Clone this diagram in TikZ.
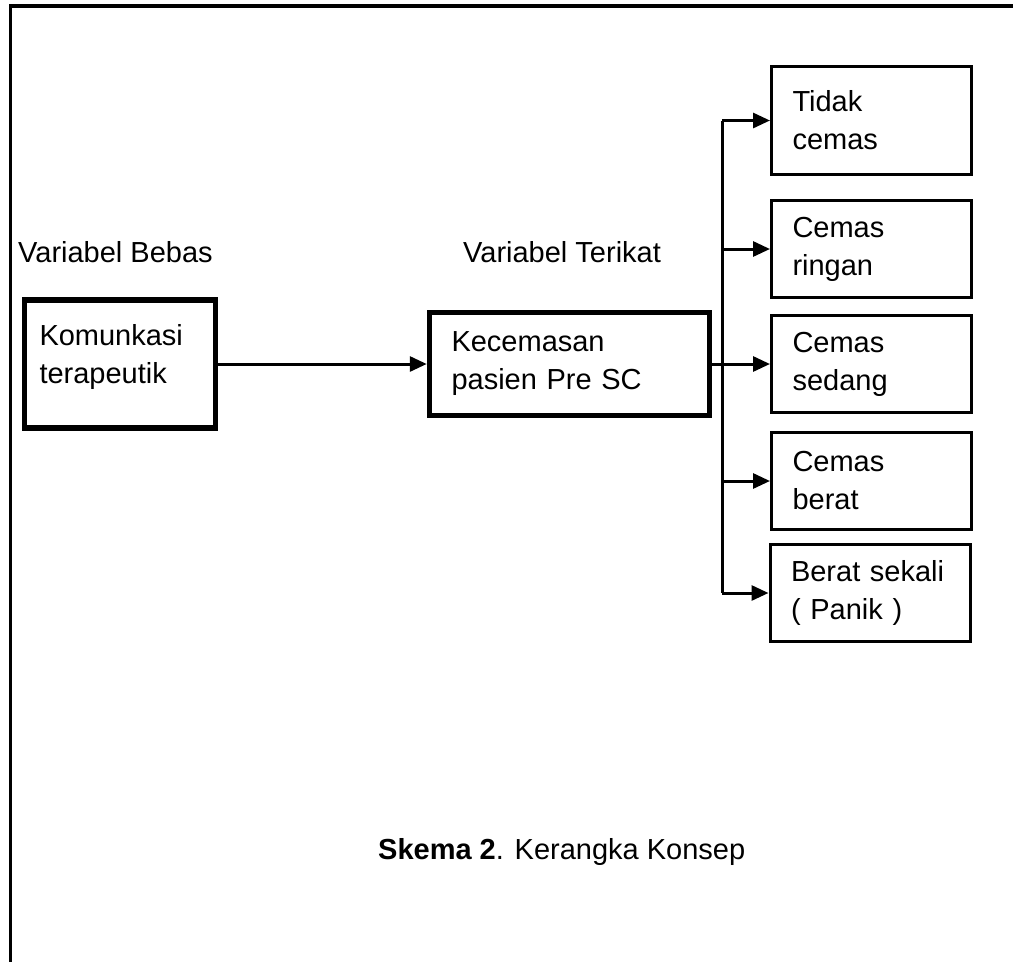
\documentclass[tikz,border=0pt]{standalone}
\usepackage{fontspec}
\setmainfont{Liberation Sans}
\usepackage{tikz}
\usetikzlibrary{shapes,arrows.meta}
\tikzstyle{variabel} = [rectangle,draw=black,line width=5.5pt,align=left,font=\fontsize{29}{38}\selectfont]
\tikzstyle{tingkat} = [rectangle,draw=black,line width=3pt,text width=158pt,inner xsep=21pt,minimum height=97pt,align=left,font=\fontsize{29}{38}\selectfont]
\tikzstyle{judul} = [inner sep=0pt,font=\fontsize{29}{38}\selectfont]
\tikzstyle{garis} = [line width=3pt]
\tikzstyle{arrow} = [line width=3pt,-{Triangle[length=17pt,width=15pt]}]

\begin{document}
\begin{tikzpicture}[x=1pt,y=-1pt]
\useasboundingbox (0,0) rectangle (1013,962);
\clip (0,0) rectangle (1013,962);
% bingkai
\draw [line width=3.5pt] (10.5,990) -- (10.5,6) -- (1040,6);

\node (bebas) [judul,anchor=base west] at (18,262) {Variabel Bebas};
\node (terikat) [judul,anchor=base west] at (463,262) {Variabel Terikat};

\node (komunikasi) [variabel,text width=161pt,inner xsep=15pt,minimum height=128pt] at (120,364) {Komunkasi\\terapeutik\rule[-20pt]{0pt}{0pt}};
\node (kecemasan) [variabel,text width=236pt,inner xsep=22pt,minimum height=103pt] at (569.5,364) {Kecemasan\\pasien Pre SC};

\node (tidak) [tingkat,minimum height=108pt] at (871.5,120.5) {Tidak\\cemas};
\node (ringan) [tingkat] at (871.5,249) {Cemas\\ringan};
\node (sedang) [tingkat] at (871.5,364) {Cemas\\sedang};
\node (berat) [tingkat] at (871.5,481) {Cemas\\berat};
\node (panik) [tingkat] at (870,593) {Berat sekali\\( Panik )};
\coordinate (cabang) at (722,364);

\node (skema) [judul,anchor=base west] at (378,859) {\textbf{Skema 2}. Kerangka Konsep};

\draw [arrow] (komunikasi) -- (kecemasan);
\draw [arrow] (kecemasan) -- (sedang);
\draw [garis] (cabang |- tidak) -- (cabang |- panik);
\draw [arrow] (cabang |- tidak) -- (tidak);
\draw [arrow] (cabang |- ringan) -- (ringan);
\draw [arrow] (cabang |- berat) -- (berat);
\draw [arrow] (cabang |- panik) -- (panik);
\end{tikzpicture}
\end{document}
